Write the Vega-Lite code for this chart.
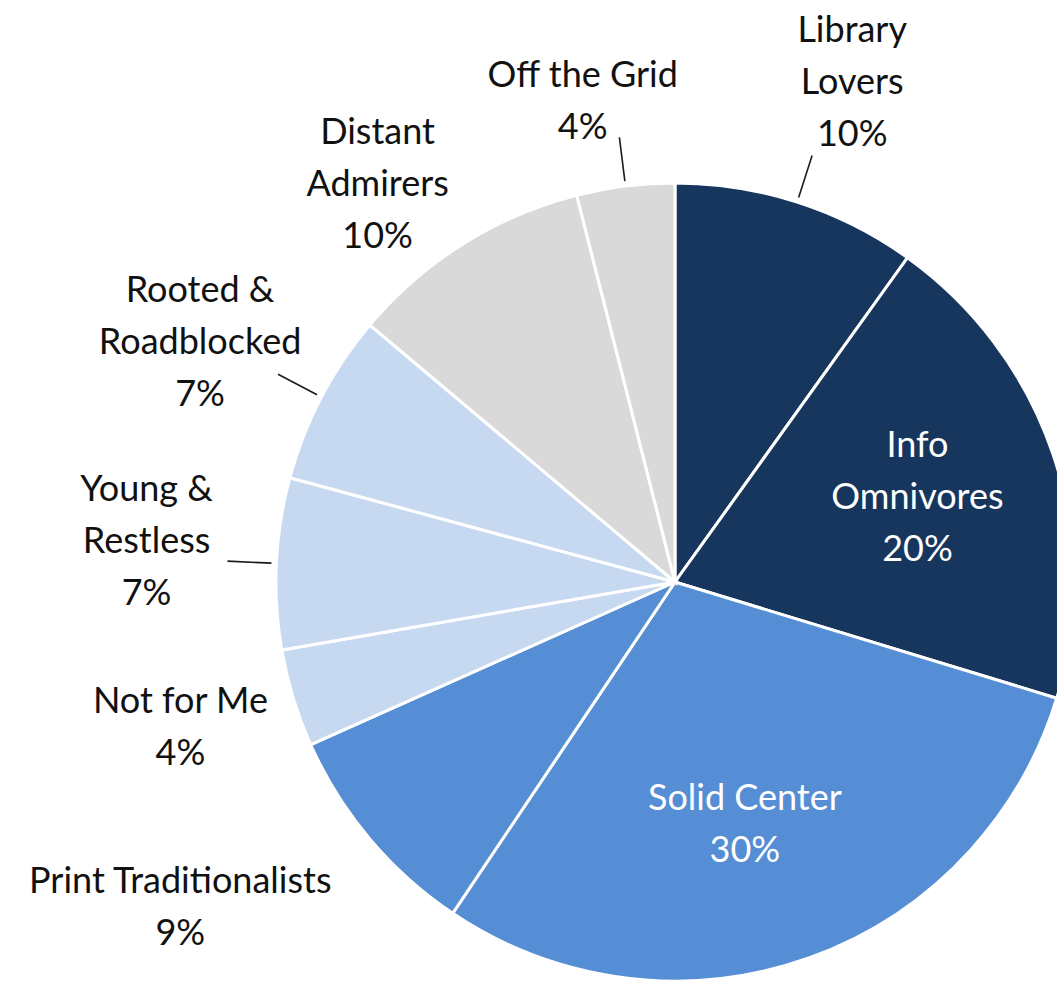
{
  "$schema": "https://vega.github.io/schema/vega-lite/v6.json",
  "width": 764,
  "height": 820,
  "padding": {"left": 293, "top": 172, "right": 0, "bottom": 0},
  "autosize": {"type": "none"},
  "background": "#ffffff",
  "config": {"view": {"stroke": null}, "text": {"font": "Lato", "fontSize": 36, "lineHeight": 52, "lineBreak": "\n", "align": "center", "baseline": "middle", "fill": "#111111"}},
  "data": {
    "values": [
      {"order": 1, "segment": "Library Lovers", "value": 10, "label": "Library\nLovers\n10%"},
      {"order": 2, "segment": "Info Omnivores", "value": 20, "label": "Info\nOmnivores\n20%"},
      {"order": 3, "segment": "Solid Center", "value": 30, "label": "Solid Center\n30%"},
      {"order": 4, "segment": "Print Traditionalists", "value": 9, "label": "Print Traditionalists\n9%"},
      {"order": 5, "segment": "Not for Me", "value": 4, "label": "Not for Me\n4%"},
      {"order": 6, "segment": "Young & Restless", "value": 7, "label": "Young &\nRestless\n7%"},
      {"order": 7, "segment": "Rooted & Roadblocked", "value": 7, "label": "Rooted &\nRoadblocked\n7%"},
      {"order": 8, "segment": "Distant Admirers", "value": 10, "label": "Distant\nAdmirers\n10%"},
      {"order": 9, "segment": "Off the Grid", "value": 4, "label": "Off the Grid\n4%"}
    ]
  },
  "encoding": {
    "theta": {"field": "value", "type": "quantitative", "stack": true},
    "order": {"field": "order", "type": "quantitative", "sort": "ascending"}
  },
  "layer": [
    {
      "mark": {"type": "arc", "outerRadius": 399, "stroke": "#ffffff", "strokeWidth": 3},
      "encoding": {
        "color": {
          "field": "segment",
          "type": "nominal",
          "legend": null,
          "scale": {
            "domain": ["Library Lovers", "Info Omnivores", "Solid Center", "Print Traditionalists", "Not for Me", "Young & Restless", "Rooted & Roadblocked", "Distant Admirers", "Off the Grid"],
            "range": ["#17365d", "#17365d", "#558ed5", "#558ed5", "#c6d9f1", "#c6d9f1", "#c6d9f1", "#d9d9d9", "#d9d9d9"]
          }
        }
      }
    },
    {
      "mark": {"type": "arc", "outerRadius": 448, "innerRadius": 404, "padAngle": 1, "fill": null, "stroke": "#1a1a1a", "strokeWidth": 1.6},
      "encoding": {
        "strokeOpacity": {
          "condition": {"test": "indexof(['Library Lovers','Off the Grid','Rooted & Roadblocked','Young & Restless'], datum.segment) >= 0", "value": 1},
          "value": 0
        }
      }
    },
    {
      "mark": {"type": "text", "radius": 579},
      "encoding": {
        "text": {"condition": {"test": "datum.segment === 'Library Lovers'", "field": "label", "type": "nominal"}, "value": ""}
      }
    },
    {
      "mark": {"type": "text", "radius": 510, "dx": -29},
      "encoding": {
        "text": {"condition": {"test": "datum.segment === 'Off the Grid'", "field": "label", "type": "nominal"}, "value": ""}
      }
    },
    {
      "mark": {"type": "text", "radius": 560, "dy": 25},
      "encoding": {
        "text": {"condition": {"test": "datum.segment === 'Distant Admirers'", "field": "label", "type": "nominal"}, "value": ""}
      }
    },
    {
      "mark": {"type": "text", "radius": 536, "dy": -42},
      "encoding": {
        "text": {"condition": {"test": "datum.segment === 'Rooted & Roadblocked'", "field": "label", "type": "nominal"}, "value": ""}
      }
    },
    {
      "mark": {"type": "text", "radius": 529, "dy": -67},
      "encoding": {
        "text": {"condition": {"test": "datum.segment === 'Young & Restless'", "field": "label", "type": "nominal"}, "value": ""}
      }
    },
    {
      "mark": {"type": "text", "radius": 517, "dy": -31},
      "encoding": {
        "text": {"condition": {"test": "datum.segment === 'Not for Me'", "field": "label", "type": "nominal"}, "value": ""}
      }
    },
    {
      "mark": {"type": "text", "radius": 550, "dx": -74, "dy": -54},
      "encoding": {
        "text": {"condition": {"test": "datum.segment === 'Print Traditionalists'", "field": "label", "type": "nominal"}, "value": ""}
      }
    },
    {
      "mark": {"type": "text", "radius": 256, "dy": -54, "fill": "#ffffff"},
      "encoding": {
        "text": {"condition": {"test": "datum.segment === 'Info Omnivores'", "field": "label", "type": "nominal"}, "value": ""}
      }
    },
    {
      "mark": {"type": "text", "radius": 253, "dx": -15, "dy": -21, "fill": "#ffffff"},
      "encoding": {
        "text": {"condition": {"test": "datum.segment === 'Solid Center'", "field": "label", "type": "nominal"}, "value": ""}
      }
    }
  ]
}
